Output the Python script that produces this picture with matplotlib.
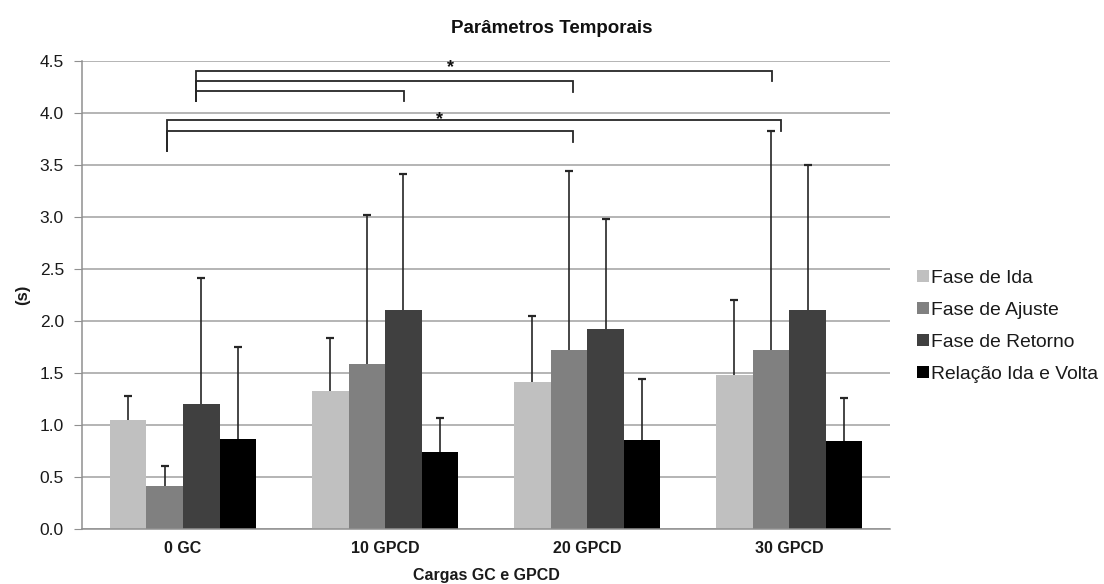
import numpy as np
import matplotlib
matplotlib.use('Agg')
import matplotlib.pyplot as plt

plt.rcParams['font.family'] = ['Liberation Sans', 'DejaVu Sans']

# cargas
categorias = ['0 GC', '10 GPCD', '20 GPCD', '30 GPCD']

# medias (s) e desvio padrao
ida = [1.05, 1.33, 1.41, 1.48]
ida_dp = [0.23, 0.51, 0.64, 0.72]
ajuste = [0.41, 1.59, 1.72, 1.72]
ajuste_dp = [0.20, 1.43, 1.72, 2.11]
retorno = [1.20, 2.11, 1.92, 2.11]
retorno_dp = [1.21, 1.30, 1.06, 1.39]
relacao = [0.87, 0.74, 0.86, 0.85]
relacao_dp = [0.88, 0.33, 0.58, 0.41]

series = ['Fase de Ida', 'Fase de Ajuste', 'Fase de Retorno', 'Relação Ida e Volta']
cores = ['#c0c0c0', '#808080', '#404040', '#000000']

# chaves de significancia: (x inicio, x fim, altura, fim perna esq, fim perna dir)
chaves = [
    (0.063, 2.913, 4.40, 4.12, 4.31),
    (0.063, 1.931, 4.31, 4.12, 4.205),
    (0.063, 1.094, 4.21, 4.12, 4.118),
    (-0.081, 2.959, 3.93, 3.638, 3.827),
    (-0.081, 1.931, 3.83, 3.638, 3.724),
]
# asteriscos (x, y)
asteriscos = [(1.325, 4.44), (1.268, 3.935)]

fig = plt.figure(figsize=(11.04, 5.84), dpi=100)
ax = fig.add_axes([0.0743, 0.0942, 0.7322, 0.8013])

x = np.arange(len(categorias))
w = 0.181
valores = [ida, ajuste, retorno, relacao]
desvios = [ida_dp, ajuste_dp, retorno_dp, relacao_dp]
for i in range(4):
    pos = x + (i - 1.5) * w
    ax.bar(pos, valores[i], width=w, color=cores[i], label=series[i], zorder=2)
    # so o erro para cima
    eb = ax.errorbar(pos, valores[i], yerr=[np.zeros(4), desvios[i]], fmt='none',
                     ecolor='#262626', elinewidth=1.2, capsize=3, capthick=1.6, zorder=3)
    eb[1][0].set_visible(False)  # tira o traco de baixo

for x0, x1, y, ye, yd in chaves:
    ax.plot([x0, x0, x1, x1], [ye, y, y, yd], color='#262626', lw=1.3,
            solid_joinstyle='miter', zorder=4, clip_on=False)
for sx, sy in asteriscos:
    ax.text(sx, sy, '*', ha='center', va='center', fontsize=13, fontweight='bold', color='#111111')

ax.set_xlim(-0.5, 3.5)
ax.set_ylim(0, 4.5)
ax.set_yticks(np.arange(0, 4.51, 0.5))
ax.set_yticklabels(['%.1f' % v for v in np.arange(0, 4.51, 0.5)])
ax.set_xticks(x)
ax.set_xticklabels(categorias, fontweight='bold')
ax.yaxis.grid(True, color='#a0a0a0', linewidth=1.1, zorder=0)
ax.set_axisbelow(True)

for s in ['top', 'right']:
    ax.spines[s].set_visible(False)
ax.spines['left'].set_color('#909090')
ax.spines['bottom'].set_color('#909090')
ax.spines['left'].set_linewidth(1.1)
ax.spines['bottom'].set_linewidth(1.1)
ax.tick_params(axis='y', length=6, color='#909090', labelsize=12.5, labelcolor='#1a1a1a', pad=7)
ax.tick_params(axis='x', length=0, labelsize=11.5, labelcolor='#1a1a1a', pad=9)

ax.set_ylabel('(s)', fontsize=12, fontweight='bold', color='#1a1a1a', labelpad=7)
ax.set_xlabel('Cargas GC e GPCD', fontsize=11.5, fontweight='bold', color='#1a1a1a', labelpad=8)
fig.text(0.5, 0.952, 'Parâmetros Temporais', ha='center', va='center',
         fontsize=13.5, fontweight='bold', color='#111111')

ax.legend(loc='center left', bbox_to_anchor=(0.831, 0.441), bbox_transform=fig.transFigure,
          frameon=False, fontsize=13.9, handlelength=0.6, handleheight=0.6,
          handletextpad=0.12, labelspacing=0.77, borderpad=0, borderaxespad=0,
          labelcolor='#1a1a1a')

fig.savefig('out.png', dpi=100)
